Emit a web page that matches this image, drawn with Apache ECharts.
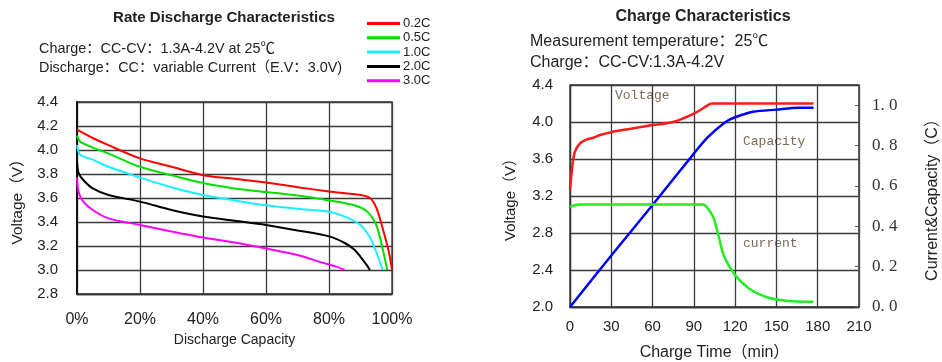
<!DOCTYPE html>
<html>
<head>
<meta charset="utf-8">
<script src="https://cdn.jsdelivr.net/npm/echarts@6/dist/echarts.min.js"></script>
<style>
  html, body { margin: 0; padding: 0; background: #fff; }
  #chart { width: 942px; height: 362px; }
</style>
</head>
<body>
<div id="chart"></div>
<script>
// left chart: discharge capacity (%) vs voltage (V)
const rateNames = ['0.2C', '0.5C', '1.0C', '2.0C', '3.0C']
const rateColors = ['#ff0000', '#00e000', '#19f0ff', '#000000', '#ff00ff']

const v02C = [[0, 4.17], [5, 4.10], [10, 4.04], [20, 3.93], [30, 3.86], [40, 3.79], [50, 3.76], [60, 3.73], [70, 3.69], [80, 3.655], [90, 3.625], [93, 3.60], [95, 3.52], [97, 3.35], [99, 3.15], [100, 3.0]]
const v05C = [[0, 4.12], [1, 4.07], [5, 4.02], [10, 3.97], [20, 3.86], [30, 3.79], [40, 3.725], [50, 3.68], [60, 3.65], [70, 3.62], [80, 3.58], [88, 3.54], [92, 3.49], [95, 3.375], [97, 3.18], [98.5, 3.0]]
const v10C = [[0, 4.04], [1, 3.96], [5, 3.92], [10, 3.86], [20, 3.77], [30, 3.69], [40, 3.625], [50, 3.58], [60, 3.54], [70, 3.51], [80, 3.486], [85, 3.445], [90, 3.375], [93, 3.27], [95, 3.15], [96.5, 3.04], [97, 3.0]]
const v20C = [[0, 3.90], [0.5, 3.81], [2, 3.75], [5, 3.68], [10, 3.625], [20, 3.57], [30, 3.50], [40, 3.445], [50, 3.41], [60, 3.375], [70, 3.33], [80, 3.28], [85, 3.225], [88, 3.17], [90, 3.11], [92, 3.04], [93, 3.0]]
const v30C = [[0, 3.77], [0.5, 3.65], [2, 3.57], [5, 3.50], [10, 3.43], [20, 3.375], [30, 3.32], [40, 3.27], [50, 3.23], [60, 3.18], [70, 3.125], [78, 3.06], [82, 3.03], [85, 3.0]]

// right chart: charge time (min)
const chargeVoltage = [[0, 3.27], [1.9, 3.55], [3.6, 3.68], [7.3, 3.77], [12, 3.81], [17, 3.83], [22, 3.86], [30, 3.89], [41, 3.92], [60, 3.967], [75, 4.0], [90, 4.09], [100, 4.18], [103, 4.2], [177, 4.2]]
const chargeCapacity = [[0, 0], [30, 0.255], [60, 0.505], [90, 0.76], [100, 0.84], [113, 0.917], [120, 0.94], [133, 0.967], [150, 0.978], [166, 0.987], [177, 0.987]]
const chargeCurrent = [[0, 0.497], [7, 0.508], [97, 0.508], [100, 0.49], [104, 0.447], [107.5, 0.365], [112, 0.25], [120, 0.158], [130, 0.092], [142, 0.051], [157, 0.031], [177, 0.026]]

const SANS = 'Liberation Sans, Arial, Noto Sans CJK SC, sans-serif'
const MONO = 'Liberation Mono, monospace'

const chart = echarts.init(document.getElementById('chart'))

const gridLine = { lineStyle: { color: '#3a3a3a', width: 1.3 } }

function txt(x, y, text, font, fill, align) {
  return {
    type: 'text', x, y,
    style: { text, font, fill: fill || '#222', align: align || 'left', verticalAlign: 'middle' }
  }
}

function curve(name, data, xi, yi, color, width) {
  return {
    name, type: 'line', xAxisIndex: xi, yAxisIndex: yi, data,
    smooth: 0.3, showSymbol: false,
    lineStyle: { color, width }, itemStyle: { color }
  }
}

chart.setOption({
  animation: false,
  grid: [
    { left: 77, width: 315, top: 102, height: 192, outerBoundsMode: 'none', show: true, borderColor: '#333', borderWidth: 1.3 },
    { left: 570, width: 289, top: 85, height: 222, outerBoundsMode: 'none', show: true, borderColor: '#333', borderWidth: 1.3 }
  ],
  legend: {
    data: rateNames,
    orient: 'vertical',
    left: 362,
    top: 12,
    itemWidth: 33,
    itemHeight: 3,
    itemGap: 1.3,
    icon: 'rect',
    textStyle: { fontFamily: SANS, fontSize: 13, color: '#222', padding: [0, 0, 0, -2] }
  },
  xAxis: [
    {
      gridIndex: 0, type: 'value', min: 0, max: 100, interval: 20,
      axisLine: { show: true, lineStyle: { color: '#333', width: 1.3 } },
      axisTick: { show: false },
      splitLine: { show: true, ...gridLine },
      axisLabel: { formatter: '{value}%', fontFamily: SANS, fontSize: 16, color: '#222', margin: 18 },
      name: 'Discharge Capacity', nameLocation: 'middle', nameGap: 35,
      nameTextStyle: { fontFamily: SANS, fontSize: 14, color: '#222' }
    },
    {
      gridIndex: 1, type: 'value', min: 0, max: 210, interval: 30,
      axisLine: { show: true, lineStyle: { color: '#333', width: 1.3 } },
      axisTick: { show: false },
      splitLine: { show: true, ...gridLine },
      axisLabel: { fontFamily: SANS, fontSize: 15, color: '#222', margin: 12 },
      name: 'Charge Time（min）', nameLocation: 'middle', nameGap: 38,
      nameTextStyle: { fontFamily: SANS, fontSize: 16, color: '#222' }
    }
  ],
  yAxis: [
    {
      gridIndex: 0, type: 'value', min: 2.8, max: 4.4, interval: 0.2,
      axisLine: { show: true, lineStyle: { color: '#111', width: 2 } },
      axisTick: { show: false },
      splitLine: { show: true, ...gridLine },
      axisLabel: { formatter: v => v.toFixed(1), fontFamily: SANS, fontSize: 15, color: '#222', margin: 19 },
      name: 'Voltage（V）', nameLocation: 'middle', nameGap: 52,
      nameTextStyle: { fontFamily: SANS, fontSize: 15.5, color: '#222' }
    },
    {
      gridIndex: 1, type: 'value', min: 2.0, max: 4.4, interval: 0.4,
      axisLine: { show: true, lineStyle: { color: '#333', width: 1.3 } },
      axisTick: { show: false },
      splitLine: { show: true, ...gridLine },
      axisLabel: { formatter: v => v.toFixed(1), fontFamily: SANS, fontSize: 15, color: '#222', margin: 17 },
      name: 'Voltage（V）', nameLocation: 'middle', nameGap: 52,
      nameTextStyle: { fontFamily: SANS, fontSize: 15, color: '#222' }
    },
    {
      gridIndex: 1, type: 'value', position: 'right', min: 0, max: 1.1, interval: 0.2,
      axisLine: { show: true, lineStyle: { color: '#555', width: 1.5 } },
      axisTick: { show: true, inside: true, length: 4, lineStyle: { color: '#555' } },
      splitLine: { show: false },
      axisLabel: {
        showMaxLabel: false,
        formatter: v => v.toFixed(1).replace('.', '. '),
        fontFamily: 'Liberation Serif, serif', fontSize: 17, color: '#333', margin: 13
      },
      name: 'Current&Capacity（C）', nameLocation: 'middle', nameGap: 66,
      nameTextStyle: { fontFamily: SANS, fontSize: 16, color: '#222' }
    }
  ],
  graphic: [
    txt(224, 18, 'Rate Discharge Characteristics', 'bold 15px ' + SANS, '#222', 'center'),
    txt(39, 49, 'Charge：CC-CV：1.3A-4.2V at 25℃', '14.4px ' + SANS),
    txt(39, 68, 'Discharge：CC：variable Current（E.V：3.0V)', '14.4px ' + SANS),
    txt(703, 17, 'Charge Characteristics', 'bold 16px ' + SANS, '#222', 'center'),
    txt(530, 42, 'Measurement temperature：25℃', '16px ' + SANS),
    txt(530, 63, 'Charge：CC-CV:1.3A-4.2V', '16px ' + SANS),
    txt(615, 96, 'Voltage', '13px ' + MONO, '#7a6a5a'),
    txt(743, 142, 'Capacity', '13px ' + MONO, '#7a6a5a'),
    txt(743, 244, 'current', '13px ' + MONO, '#7a6a5a')
  ],
  series: [
    ...[v02C, v05C, v10C, v20C, v30C].map((d, i) => curve(rateNames[i], d, 0, 0, rateColors[i], 2)),
    curve('Voltage', chargeVoltage, 1, 1, '#ff1a1a', 2.5),
    curve('Capacity', chargeCapacity, 1, 2, '#0000ff', 2.5),
    curve('current', chargeCurrent, 1, 2, '#22ee22', 2.5)
  ]
})
</script>
</body>
</html>
